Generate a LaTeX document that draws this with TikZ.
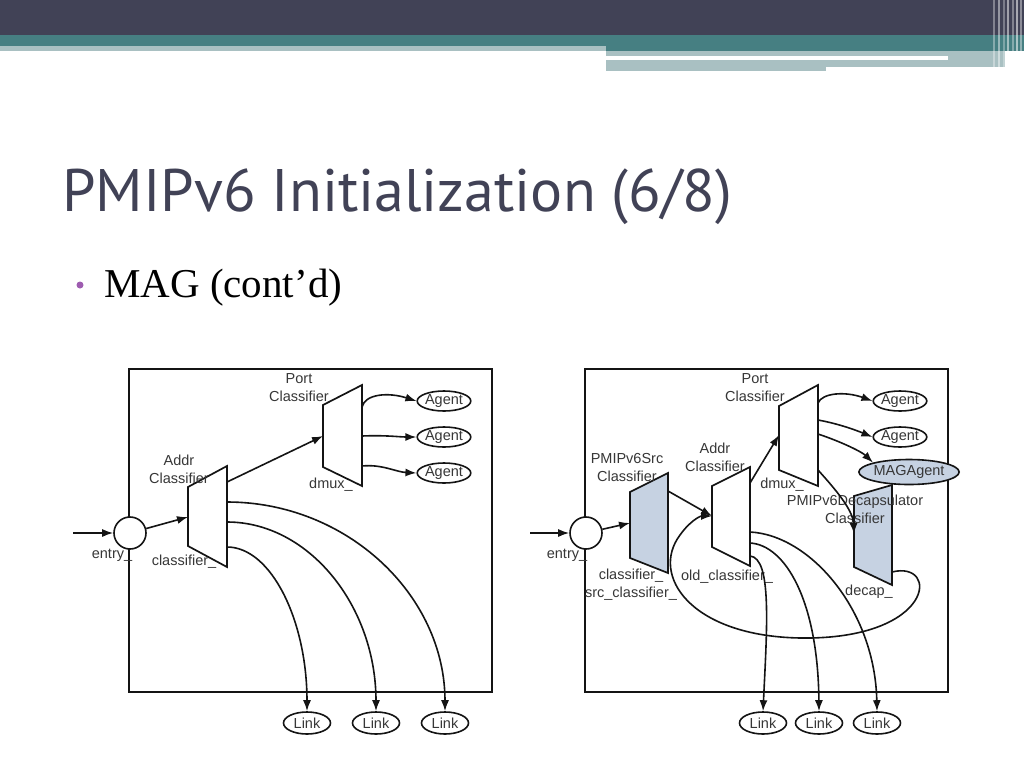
\documentclass[tikz,border=0pt]{standalone}
\usepackage{fontspec}
\setmainfont{Liberation Serif}
\newfontfamily\diagfont{Liberation Sans}
\newfontfamily\titlefont{PT Sans}
\usetikzlibrary{arrows.meta,shapes.geometric}
\definecolor{hdark}{RGB}{65,66,86}
\definecolor{hteal}{RGB}{70,127,130}
\definecolor{hlight}{RGB}{169,192,194}
\definecolor{fillblue}{RGB}{198,210,226}
\definecolor{lblgray}{RGB}{55,55,55}
\definecolor{bulletpurple}{RGB}{158,92,176}
\definecolor{linecol}{RGB}{20,20,20}
\begin{document}
\begin{tikzpicture}[x=1pt,y=-1pt,
  lbl/.style={font=\diagfont\fontsize{14.5}{18}\selectfont, text=lblgray, align=center, inner sep=0},
  arr/.style={draw=linecol, line width=1.6pt, -{Latex[length=11pt,width=8pt]}},
  trap/.style={draw=linecol, line width=1.7pt, line join=miter},
  oval/.style={ellipse, draw=linecol, line width=1.6pt, inner sep=0, font=\diagfont\fontsize{14.5}{16}\selectfont, text=lblgray},
  agentnode/.style={oval, minimum width=49pt, minimum height=20pt},
  linknode/.style={oval, minimum width=47pt, minimum height=22pt},
  entrynode/.style={circle, draw=linecol, line width=1.6pt, minimum size=32pt, inner sep=0, fill=white},
  framebox/.style={draw=linecol, line width=1.8pt}
]
\useasboundingbox (0,0) rectangle (1024,768);
\fill[white] (0,0) rectangle (1024,768);
% header
\fill[hdark] (0,0) rectangle (1024,35);
\fill[hteal] (0,35) rectangle (1024,46);
\fill[hteal] (606,46) rectangle (1024,51);
\fill[hlight] (0,46) rectangle (606,51);
\fill[hlight] (606,51) rectangle (1005,67);
\fill[white] (606,56.5) rectangle (948,60);
\fill[hlight] (606,67) rectangle (826,71);
\foreach \xx/\ww/\oo in {993/1.5/0.35, 998/2/0.45, 1003/1.5/0.3, 1007/2/0.5, 1012/1.5/0.35, 1016/2/0.55, 1020/1.5/0.4}
  \fill[white, opacity=\oo] (\xx,0) rectangle ++(\ww,69);
% title
\node[anchor=base west, text=hdark, inner sep=0] (title) at (62,211)
  {\titlefont\fontsize{60}{72}\selectfont PMIPv6 Initialization (6/8)};
\node[circle, fill=bulletpurple, minimum size=7pt, inner sep=0] (bul) at (80,285) {};
\node[anchor=base west, inner sep=0] (mag) at (104,297)
  {\fontsize{41}{48}\selectfont MAG (cont’d)};

% ================= LEFT DIAGRAM =================
\draw[framebox] (129,369) rectangle (492,692);
\node[entrynode] (entryL) at (130,533) {};
\coordinate (srcL) at (73,533);
\draw[arr] (srcL) -- (entryL);
\node[lbl] (entryLlbl) at (112,555) {entry\_};
% Addr classifier
\draw[trap, fill=white] (188,487) -- (227,466) -- (227,567) -- (188,546) -- cycle;
\coordinate (addrLin) at (188,517);
\coordinate (addrLout) at (227,482);
\coordinate (addrLo1) at (227,502);
\coordinate (addrLo2) at (227,522);
\coordinate (addrLo3) at (227,547);
\node[lbl] (addrLlbl) at (179,469) {Addr\\Classifier};
\node[lbl] (classLlbl) at (184,562) {classifier\_};
% Port classifier
\draw[trap, fill=white] (323,405) -- (362,385) -- (362,486) -- (323,467) -- cycle;
\coordinate (portLin) at (323,436);
\coordinate (portLo1) at (362,407);
\coordinate (portLo2) at (362,436);
\coordinate (portLo3) at (362,466);
\node[lbl] (portLlbl) at (299,388) {Port\\Classifier};
\node[lbl] (dmuxLlbl) at (331,485) {dmux\_};
% agents
\node[agentnode] (agL1) at (444,401) {Agent};
\node[agentnode] (agL2) at (444,437) {Agent};
\node[agentnode] (agL3) at (444,473) {Agent};
% links
\node[linknode] (lkL1) at (307,723) {Link};
\node[linknode] (lkL2) at (376,723) {Link};
\node[linknode] (lkL3) at (445,723) {Link};
% connectors
\draw[arr] (entryL) -- (addrLin);
\draw[arr] (addrLout) -- (portLin);
\draw[arr] (portLo1) .. controls (365,394) and (388,392) .. (agL1.west);
\draw[arr] (portLo2) .. controls (385,435) and (400,437) .. (agL2.west);
\draw[arr] (portLo3) .. controls (382,464) and (396,472) .. (agL3.west);
\draw[arr] (addrLo1) .. controls +(120,0) and +(0,-116) .. (lkL3.north);
\draw[arr] (addrLo2) .. controls +(82,0) and +(0,-105) .. (lkL2.north);
\draw[arr] (addrLo3) .. controls +(44,0) and +(0,-91) .. (lkL1.north);

% ================= RIGHT DIAGRAM =================
\draw[framebox] (585,369) rectangle (948,692);
\node[entrynode] (entryR) at (586,533) {};
\coordinate (srcR) at (530,533);
\draw[arr] (srcR) -- (entryR);
\node[lbl] (entryRlbl) at (567,555) {entry\_};
% PMIPv6Src classifier
\draw[trap, fill=fillblue] (630,492) -- (668,473) -- (668,573) -- (630,558) -- cycle;
\coordinate (srcClin) at (630,523);
\coordinate (srcClout) at (668,491);
\node[lbl] (srcCllbl) at (627,468) {PMIPv6Src\\Classifier};
\node[lbl] (srcClname) at (631,585) {classifier\_\\src\_classifier\_};
% Addr classifier
\draw[trap, fill=white] (712,486) -- (750,467) -- (750,566) -- (712,547) -- cycle;
\coordinate (addrRin) at (712,516);
\coordinate (addrRout) at (750,483);
\coordinate (addrRo1) at (750,532);
\coordinate (addrRo2) at (750,543);
\coordinate (addrRo3) at (750,556);
\node[lbl] (addrRlbl) at (715,457) {Addr\\Classifier};
\node[lbl] (oldRlbl) at (727,577) {old\_classifier\_};
% Port classifier
\draw[trap, fill=white] (779,406) -- (818,385) -- (818,486) -- (779,470) -- cycle;
\coordinate (portRin) at (779,435);
\coordinate (portRo1) at (818,403);
\coordinate (portRo2) at (818,420);
\coordinate (portRo3) at (818,434);
\coordinate (portRo4) at (818,470);
\node[lbl] (portRlbl) at (755,388) {Port\\Classifier};
\node[lbl] (dmuxRlbl) at (782,485) {dmux\_};
% Decapsulator classifier
\draw[trap, fill=fillblue] (854,496) -- (892,485) -- (892,585) -- (854,567) -- cycle;
\coordinate (decIn) at (854,534);
\coordinate (decOut) at (892,572);
\node[lbl] (decRlbl) at (855,509) {PMIPv6Decapsulator\\Classifier};
\node[lbl] (decname) at (869,592) {decap\_};
% agents
\node[agentnode] (agR1) at (900,401) {Agent};
\node[agentnode] (agR2) at (900,437) {Agent};
\node[oval, fill=fillblue, minimum width=71pt, minimum height=25pt] (magR) at (909,472) {MAGAgent};
% links
\node[linknode] (lkR1) at (763,723) {Link};
\node[linknode] (lkR2) at (819,723) {Link};
\node[linknode] (lkR3) at (877,723) {Link};
% connectors
\draw[arr] (entryR) -- (srcClin);
\draw[arr] (srcClout) -- (addrRin);
\draw[arr] (addrRout) -- (portRin);
\draw[arr] (portRo1) .. controls (822,393) and (845,391) .. (agR1.west);
\draw[arr] (portRo2) .. controls (840,424) and (858,431) .. (agR2.west);
\draw[arr] (portRo3) .. controls (842,442) and (862,452) .. (magR.north west);
\draw[arr] (portRo4) .. controls (836,490) and (853,510) .. (decIn);
\draw[arr] (decOut) .. controls (940,560) and (935,640) .. (800,638)
  .. controls (690,636) and (650,575) .. (680,535)
  .. controls (690,521) and (700,516) .. (addrRin);
\draw[arr] (addrRo1) .. controls (810,535) and (875,610) .. (lkR3.north);
\draw[arr] (addrRo2) .. controls (785,545) and (818,600) .. (lkR2.north);
\draw[arr] (addrRo3) .. controls (772,558) and (767,627) .. (lkR1.north);
\end{tikzpicture}
\end{document}
